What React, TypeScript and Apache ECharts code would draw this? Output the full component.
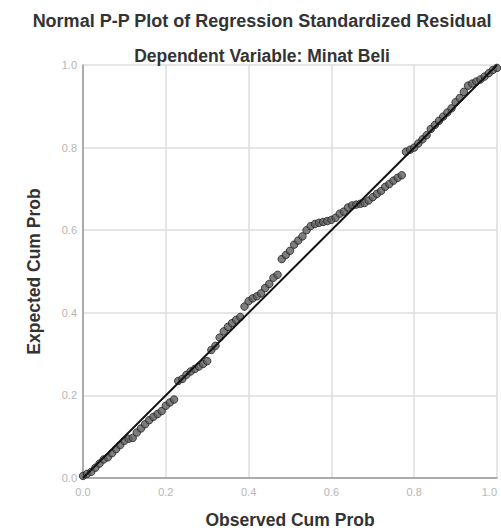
import React, { useEffect, useRef } from "react";
import * as echarts from "echarts";

const observed = [0.0, 0.01, 0.02, 0.03, 0.04, 0.05, 0.06, 0.07, 0.08, 0.09, 0.10, 0.11, 0.12, 0.13, 0.14, 0.15, 0.16, 0.17, 0.18, 0.19, 0.20, 0.21, 0.22, 0.23, 0.24, 0.25, 0.26, 0.27, 0.28, 0.29, 0.30, 0.31, 0.32, 0.33, 0.34, 0.35, 0.36, 0.37, 0.38, 0.39, 0.40, 0.41, 0.42, 0.43, 0.44, 0.45, 0.46, 0.47, 0.48, 0.49, 0.50, 0.51, 0.52, 0.53, 0.54, 0.55, 0.56, 0.57, 0.58, 0.59, 0.60, 0.61, 0.62, 0.63, 0.64, 0.65, 0.66, 0.67, 0.68, 0.69, 0.70, 0.71, 0.72, 0.73, 0.74, 0.75, 0.76, 0.77, 0.78, 0.79, 0.80, 0.81, 0.82, 0.83, 0.84, 0.85, 0.86, 0.87, 0.88, 0.89, 0.90, 0.91, 0.92, 0.93, 0.94, 0.95, 0.96, 0.97, 0.98, 0.99, 1.0];
const expected = [0.005, 0.01, 0.015, 0.025, 0.035, 0.045, 0.05, 0.06, 0.07, 0.08, 0.09, 0.095, 0.097, 0.11, 0.12, 0.13, 0.14, 0.148, 0.155, 0.162, 0.175, 0.183, 0.19, 0.235, 0.24, 0.25, 0.258, 0.264, 0.27, 0.276, 0.283, 0.31, 0.32, 0.34, 0.355, 0.366, 0.375, 0.383, 0.39, 0.415, 0.428, 0.435, 0.44, 0.447, 0.46, 0.47, 0.485, 0.492, 0.53, 0.54, 0.55, 0.565, 0.575, 0.585, 0.6, 0.61, 0.615, 0.618, 0.62, 0.622, 0.625, 0.63, 0.64, 0.645, 0.655, 0.66, 0.662, 0.664, 0.666, 0.672, 0.68, 0.688, 0.695, 0.705, 0.712, 0.72, 0.727, 0.733, 0.79, 0.795, 0.8, 0.81, 0.82, 0.83, 0.845, 0.855, 0.865, 0.875, 0.885, 0.895, 0.91, 0.92, 0.935, 0.95, 0.955, 0.96, 0.965, 0.972, 0.98, 0.988, 0.993];
const diagonal = [[0, 0], [1, 1]];
const titleText = "Normal P-P Plot of Regression Standardized Residual";
const subtitleText = "Dependent Variable: Minat Beli";
const xName = "Observed Cum Prob";
const yName = "Expected Cum Prob";

export default function App() {
  const ref = useRef<HTMLDivElement>(null);
  useEffect(() => {
    if (!ref.current) return;
    const chart = echarts.init(ref.current, null, { renderer: "svg" });
    const font = "'Liberation Sans', Arial, sans-serif";
    chart.setOption({
      animation: false,
      backgroundColor: "#ffffff",
      title: [
        {
          text: titleText,
          left: 257,
          top: 7,
          textAlign: "center",
          textStyle: { fontFamily: font, fontSize: 18, fontWeight: "bold", color: "#333" },
        },
        {
          text: subtitleText,
          left: 257,
          top: 42,
          textAlign: "center",
          textStyle: { fontFamily: font, fontSize: 17.5, fontWeight: "bold", color: "#333" },
        },
      ],
      grid: { left: 83, right: 4, top: 65, bottom: 54, outerBoundsMode: "none", containLabel: false },
      xAxis: {
        type: "value",
        min: 0,
        max: 1,
        interval: 0.2,
        name: xName,
        nameLocation: "middle",
        nameGap: 33,
        nameTextStyle: { fontFamily: font, fontSize: 17.5, fontWeight: "bold", color: "#333" },
        axisLine: { show: true, lineStyle: { color: "#999", width: 1.5 } },
        axisTick: { show: false },
        axisLabel: {
          fontFamily: font,
          fontSize: 11,
          color: "#b5b5b5",
          margin: 8,
          alignMaxLabel: "right",
          formatter: (v: number) => v.toFixed(1),
        },
        splitLine: { show: true, lineStyle: { color: "#ddd", width: 1.5 } },
      },
      yAxis: {
        type: "value",
        min: 0,
        max: 1,
        interval: 0.2,
        name: yName,
        nameLocation: "middle",
        nameGap: 40,
        nameTextStyle: { fontFamily: font, fontSize: 17.5, fontWeight: "bold", color: "#333" },
        axisLine: { show: true, lineStyle: { color: "#999", width: 1.5 } },
        axisTick: { show: false },
        axisLabel: { fontFamily: font, fontSize: 11, color: "#b5b5b5", margin: 6, formatter: (v: number) => v.toFixed(1) },
        splitLine: { show: true, lineStyle: { color: "#ddd", width: 1.5 } },
      },
      series: [
        {
          type: "scatter",
          data: observed.map((x, i) => [x, expected[i]]),
          symbol: "circle",
          symbolSize: 7.5,
          itemStyle: { color: "#5e5e5e", borderColor: "#222", borderWidth: 1 },
          z: 2,
        },
        {
          type: "line",
          data: diagonal,
          showSymbol: false,
          lineStyle: { color: "#111", width: 2 },
          z: 3,
        },
      ],
    });
    return () => chart.dispose();
  }, []);
  return <div ref={ref} style={{ width: 501, height: 532, position: "absolute", left: 0, top: 0 }} />;
}
